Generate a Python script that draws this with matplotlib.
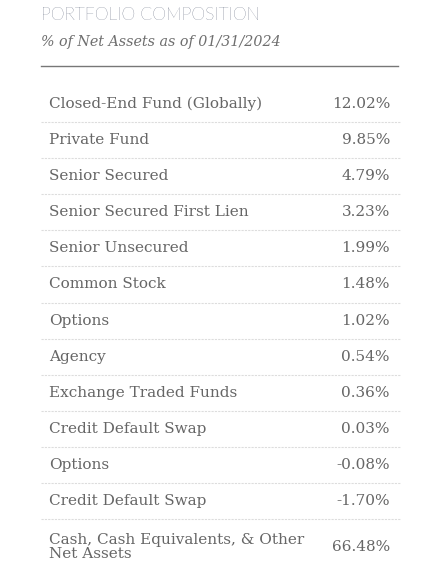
import matplotlib
matplotlib.use("Agg")
import matplotlib.pyplot as plt

categories = ["Closed-End Fund (Globally)", "Private Fund", "Senior Secured",
              "Senior Secured First Lien", "Senior Unsecured", "Common Stock",
              "Options", "Agency", "Exchange Traded Funds", "Credit Default Swap",
              "Options", "Credit Default Swap", "Cash, Cash Equivalents, & Other\nNet Assets"]
values = [12.02, 9.85, 4.79, 3.23, 1.99, 1.48, 1.02, 0.54, 0.36, 0.03, -0.08, -1.70, 66.48]

W, H = 441, 571
fig = plt.figure(figsize=(W/100, H/100), dpi=100)
ax = fig.add_axes([0, 0, 1, 1])
ax.set_xlim(0, W); ax.set_ylim(H, 0); ax.axis("off")

ax.text(41, 15, "PORTFOLIO COMPOSITION", family="Lato", weight="light", fontsize=12.6,
        color="#2a3550", va="center")
ax.text(41, 42, "% of Net Assets as of 01/31/2024", family="DejaVu Serif", style="italic",
        fontsize=10.3, color="#6e6e6e", va="center")
ax.plot([41, 398], [66, 66], color="#777777", lw=1)

tc = "#666666"
fs = 11
y = 104
for i, (c, v) in enumerate(zip(categories, values)):
    yc = y if i < len(categories) - 1 else 547
    ax.text(49, yc, c, family="DejaVu Serif", fontsize=fs, color=tc, va="center", linespacing=1.0)
    ax.text(390, yc, f"{v:.2f}%", family="DejaVu Serif", fontsize=fs,
            color=tc, va="center", ha="right")
    if i < len(categories) - 1:
        ax.plot([41, 400], [y + 18, y + 18], color="#dddddd", lw=0.8, ls=(0, (2, 1)))
    y += 36.1

fig.savefig("out.png", dpi=100, facecolor="white")
